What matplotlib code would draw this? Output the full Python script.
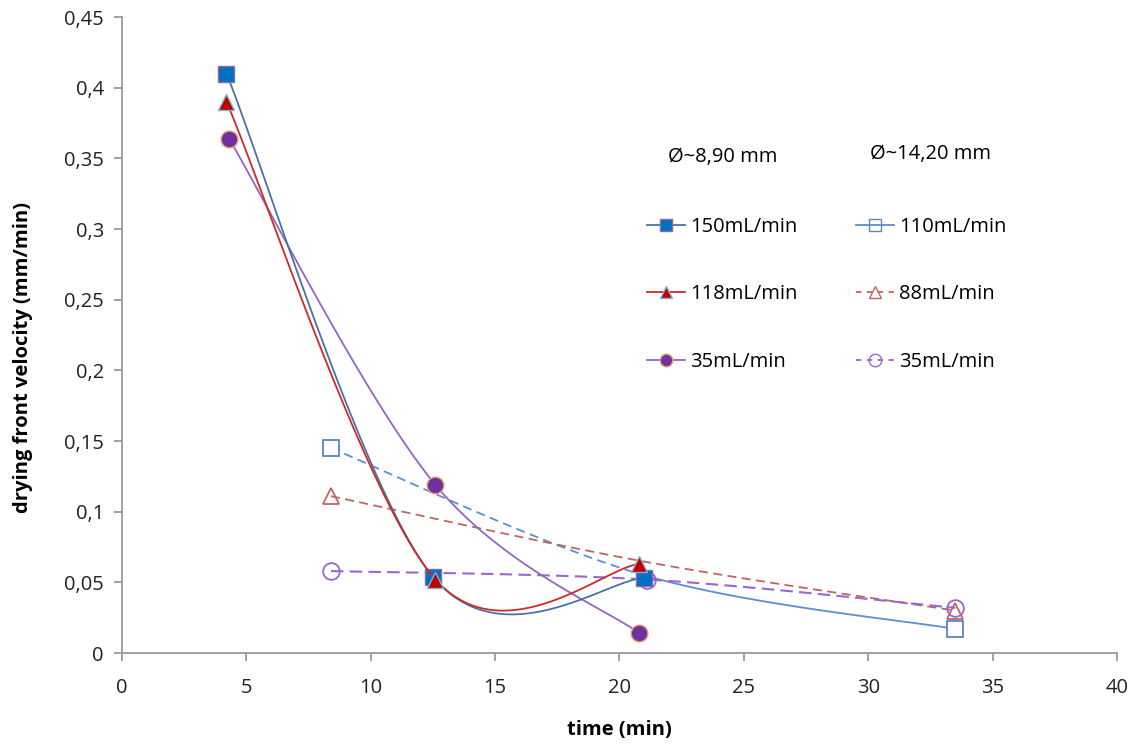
import numpy as np
import matplotlib.pyplot as plt
from matplotlib.lines import Line2D
from matplotlib.ticker import FuncFormatter

plt.rcParams['font.family'] = ['Open Sans', 'DejaVu Sans']

# --- data ---
# small pipe (~8,90 mm)
t_150 = [4.2, 12.5, 21.0]
v_150 = [0.410, 0.054, 0.053]
t_118 = [4.2, 12.6, 20.8]
v_118 = [0.390, 0.052, 0.063]
t_35a = [4.3, 12.6, 20.8]
v_35a = [0.364, 0.119, 0.014]
# large pipe (~14,20 mm)
t_110 = [8.4, 21.0, 33.5]
v_110 = [0.145, 0.055, 0.017]
t_88 = [8.4, 20.9, 33.5]
v_88 = [0.111, 0.065, 0.030]
t_35b = [8.4, 21.1, 33.5]
v_35b = [0.058, 0.052, 0.032]


def smooth(xs, ys, n=60):
    # Excel-style smoothed line: cubic bezier, control points from neighbours / 6
    p = np.column_stack([xs, ys]).astype(float)
    pts = np.vstack([p[0], p, p[-1]])
    segs = []
    for i in range(1, len(pts) - 2):
        p0, p1, p2, p3 = pts[i - 1], pts[i], pts[i + 1], pts[i + 2]
        c1 = p1 + (p2 - p0) / 6
        c2 = p2 - (p3 - p1) / 6
        s = np.linspace(0, 1, n)[:, None]
        b = ((1 - s) ** 3) * p1 + 3 * ((1 - s) ** 2) * s * c1 + 3 * (1 - s) * s ** 2 * c2 + s ** 3 * p2
        segs.append(b)
    return segs


fig = plt.figure(figsize=(11.37, 7.47), dpi=100)
ax = fig.add_axes([0.1073, 0.1258, 0.8751, 0.8514])

FS = 14.5
BLUE_L = '#4a72a8'
RED_L = '#d0282a'
PUR_L = '#9466c4'

# dashed series (large pipe)
segs = smooth(t_110, v_110)
ax.plot(segs[0][:, 0], segs[0][:, 1], color='#5b8fd0', lw=1.3, ls=(0, (5, 3)))
ax.plot(segs[1][:, 0], segs[1][:, 1], color='#5b8fd0', lw=1.3)
ax.plot([t_110[0], t_110[2]], [v_110[0], v_110[2]], ls='none', marker='s', ms=11,
        mfc='white', mec='#5b86c0', mew=1.3)

segs = np.vstack(smooth(t_88, v_88))
ax.plot(segs[:, 0], segs[:, 1], color='#c06462', lw=1.3, ls=(0, (5, 3)))
ax.plot([t_88[0], t_88[2]], [v_88[0], v_88[2]], ls='none', marker='^', ms=11,
        mfc='none', mec='#c06462', mew=1.3)

segs = np.vstack(smooth(t_35b, v_35b))
ax.plot(segs[:, 0], segs[:, 1], color='#9a66d0', lw=1.5, ls=(0, (6, 3)))
ax.plot(t_35b, v_35b, ls='none', marker='o', ms=12, mfc='none', mec='#9a66d0', mew=1.3)

# solid series (small pipe)
segs = np.vstack(smooth(t_35a, v_35a))
ax.plot(segs[:, 0], segs[:, 1], color=PUR_L, lw=1.3)
ax.plot(t_35a, v_35a, ls='none', marker='o', ms=12, mfc='#7030a0', mec='#e0a070', mew=1.0)

segs = np.vstack(smooth(t_150, v_150))
ax.plot(segs[:, 0], segs[:, 1], color=BLUE_L, lw=1.3)
ax.plot(t_150, v_150, ls='none', marker='s', ms=12, mfc='#0070c0', mec='#8a6aa8', mew=1.0)

segs = np.vstack(smooth(t_118, v_118))
ax.plot(segs[:, 0], segs[:, 1], color=RED_L, lw=1.3)
ax.plot(t_118, v_118, ls='none', marker='^', ms=11, mfc='#c00000', mec='#7fb4d0', mew=1.0)

ax.set_xlim(0, 40)
ax.set_ylim(0, 0.45)
ax.set_xticks(np.arange(0, 41, 5))
ax.set_yticks(np.arange(0, 0.451, 0.05))
ax.yaxis.set_major_formatter(FuncFormatter(lambda v, p: ('%g' % round(v, 2)).replace('.', ',')))
for s in ['top', 'right']:
    ax.spines[s].set_visible(False)
for s in ['left', 'bottom']:
    ax.spines[s].set_color('#9a9a9a')
    ax.spines[s].set_linewidth(1.3)
ax.tick_params(axis='both', colors='#9a9a9a', width=1.3, length=6, labelsize=FS, labelcolor='#222222')
ax.tick_params(axis='x', pad=12)
ax.tick_params(axis='y', pad=7)

ax.set_xlabel('time (min)', fontsize=FS, fontweight='bold')
ax.set_ylabel('drying front velocity (mm/min)', fontsize=FS, fontweight='bold')
ax.xaxis.set_label_coords(0.5, (653 - 730) / 636, transform=ax.transAxes)
ax.yaxis.set_label_coords(-(122 - 23) / 995, (653 - 357) / 636, transform=ax.transAxes)
ax.xaxis.label.set_va('center')
ax.yaxis.label.set_va('center')

# legend
handles = [
    Line2D([], [], color=BLUE_L, lw=1.3, marker='s', ms=9, mfc='#0070c0', mec='#8a6aa8'),
    Line2D([], [], color=RED_L, lw=1.3, marker='^', ms=9, mfc='#c00000', mec='#7fb4d0'),
    Line2D([], [], color=PUR_L, lw=1.3, marker='o', ms=9, mfc='#7030a0', mec='#e0a070'),
    Line2D([], [], color='#5b8fd0', lw=1.3, marker='s', ms=9, mfc='none', mec='#5b86c0'),
    Line2D([], [], color='#c06462', lw=1.3, ls=(0, (3, 3)), marker='^', ms=9, mfc='none', mec='#c06462'),
    Line2D([], [], color='#9a66d0', lw=1.3, ls=(0, (3, 3)), marker='o', ms=9, mfc='none', mec='#9a66d0'),
]
labels = ['150mL/min', '118mL/min', '35mL/min', '110mL/min', '88mL/min', '35mL/min']
ax.legend(handles, labels, ncol=2, frameon=False, fontsize=FS,
          loc='upper left', bbox_to_anchor=(637 / 1137, 1 - 207 / 747),
          bbox_transform=fig.transFigure, labelspacing=2.35, columnspacing=2.9,
          handlelength=1.9, handletextpad=0.25, borderpad=0)

fig.text(668 / 1137, 1 - 157 / 747, 'Ø~8,90 mm', fontsize=FS, va='center', ha='left')
fig.text(870 / 1137, 1 - 154 / 747, 'Ø~14,20 mm', fontsize=FS, va='center', ha='left')

fig.savefig('out.png', dpi=100)
